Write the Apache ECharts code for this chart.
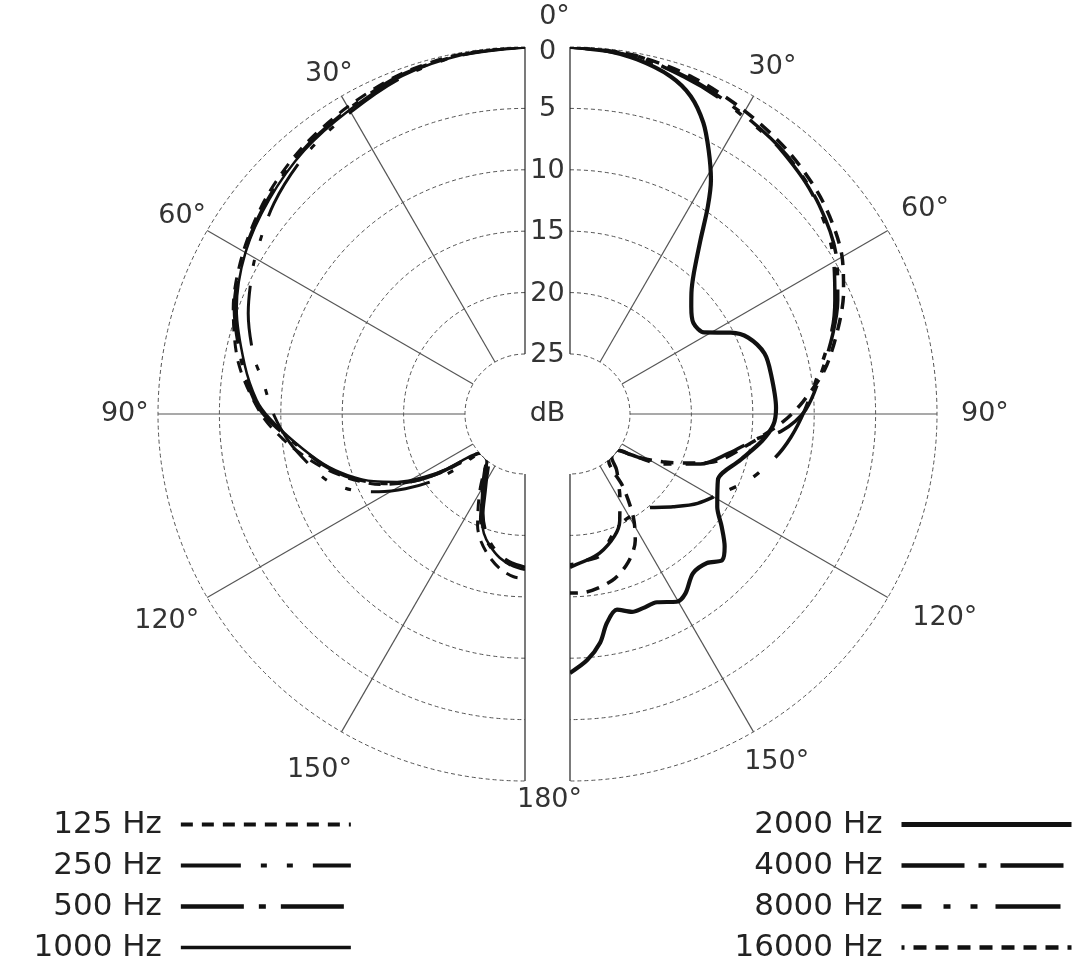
<!DOCTYPE html>
<html><head><meta charset="utf-8">
<script src="https://cdn.jsdelivr.net/npm/echarts@6/dist/echarts.min.js"></script>
<style>html,body{margin:0;padding:0;background:#fff}#c{width:1080px;height:966px}</style>
</head><body><div id="c"></div>
<script>
// ---- axis ticks ----
const angleTicks = [0, 30, 60, 90, 120, 150, 180];
const dbTicks = [0, 5, 10, 15, 20, 25];
const lowNames = ['125 Hz', '250 Hz', '500 Hz', '1000 Hz'];
const highNames = ['2000 Hz', '4000 Hz', '8000 Hz', '16000 Hz'];

// ---- data: [angle (deg), attenuation (dB)] ----
const f125 = [[0,0],[10,0.1],[20,0.4],[30,1.0],[40,1.6],[50,2.4],[60,3.4],[70,4.6],[80,6.2],[90,8.4],[97,10.4],[104,12.6],[110,14.6],[116,16.8],[121,19.2],[125,21.6],[128,23.8],[131,25],[141,25],[145,24],[149,22.8],[153,21.5],[157,20],[161,18.9],[166,17.9],[171,17.1],[176,16.6],[180,16.5]];
const f250 = [[0,0],[10,0.2],[20,0.7],[30,1.5],[40,2.2],[50,3.2],[60,4.5],[65,5.2],[70,5.9],[78,7.3],[83,8.4],[90,9.4],[97,10.6],[104,12.0],[109,13.0],[114,14.6],[118,16.4],[122,18.4],[126,20.6],[129,23],[132,25],[140,25],[144,24.3],[149,23.2],[153,22.2],[157,20.6],[161,19.5],[166,18.6],[171,17.9],[176,17.4],[180,17.2]];
const f500 = [[0,0],[10,0.2],[20,0.5],[30,1.2],[40,1.8],[50,2.6],[60,3.5],[70,4.7],[80,6.5],[87,7.8],[91,8.9],[97,10.9],[104,12.9],[109,14.4],[114,16.2],[118,17.8],[122,19.8],[125,21.8],[128,24.2],[131,25],[140,25],[144,24.8],[149,23.8],[153,22.7],[157,21.1],[161,19.9],[165,19.0],[170,18.2],[175,17.7],[180,17.4]];
const f1000 = [[0,0],[10,0.2],[20,0.6],[30,1.3],[40,1.9],[50,2.7],[60,3.6],[70,4.9],[80,6.7],[87,8.0],[91,9.1],[97,11.0],[104,13.0],[109,14.6],[114,16.4],[118,18.1],[122,20.2],[125,22.1],[128,24.4],[131,25],[140,25],[144,24.6],[149,23.6],[153,22.5],[157,20.8],[161,19.6],[165,18.8],[170,18.0],[175,17.5],[180,17.2]];
const f2000 = [[0,0],[5,0.1],[10.7,0.5],[16.6,1.2],[20.8,2.2],[24.6,3.8],[27.7,5.6],[31,7.6],[33.6,9.6],[36.9,12.2],[41.3,14.6],[45,15.9],[48.5,16.7],[53.6,17.4],[58.7,17.1],[63.2,15.2],[66.8,14.1],[72.7,13.3],[78.7,13.2],[88.3,13.1],[93,13.3],[98,14.1],[105,15.5],[114,16.7],[122.3,15.7],[126.6,14.5],[130.6,13.3],[133.8,12.7],[137.4,13.4],[142.3,13.5],[147.3,12.5],[150.4,12.3],[155.2,13.0],[159.4,13.0],[162.6,13.0],[166.5,13.5],[170,12.6],[172.5,11.1],[176,9.8],[180,8.8]];
const f4000 = [[0,0],[10,0.3],[20,0.9],[30,1.7],[40,2.4],[50,3.4],[60,4.8],[67,6.2],[73,7.5],[81,9.2],[89,10.7],[94.6,12.6],[97.3,14.4],[104,16.6],[111,18.5],[118.6,21.4],[123.7,23.9],[127,25],[136,25],[140,24],[145,23],[149,22],[155,20.3],[160,19.3],[168,18.3],[175,17.8],[180,17.6]];
const f8000 = [[0,0],[10,0.2],[18.6,0.9],[25,1.4],[32.6,2.0],[38,2.3],[47.5,3.2],[57.4,4.6],[66.7,6.4],[72.3,7.5],[80.8,9.4],[89.3,10.8],[96,11.8],[102,12.8],[110,14.3],[116.7,15.8],[125,17.2],[132,18.6],[140.7,20],[149.8,20.2],[157.4,19.9],[168,18.1],[173.4,17.9],[180,17.4]];
const f16000 = [[0,0],[10,0.2],[20,0.7],[30,1.4],[40,2.1],[50,3.0],[60,4.3],[66,5.5],[72,6.9],[80,8.8],[87,10.9],[92,12.5],[99.2,15],[108.6,17.6],[112.2,19.3],[117.3,21.4],[122.7,23.4],[127.5,25],[140,25],[144,22.5],[148.5,20],[152.7,18.3],[158.7,16.9],[165.8,15.9],[175.8,15.3],[180,15.3]];

const FONT = 'DejaVu Sans';
const INK = '#111';
const chart = echarts.init(document.getElementById('c'));

const styles = {
  '125 Hz':   { width: 3,   type: [12, 9] },
  '250 Hz':   { width: 3,   type: [60, 20, 6, 20, 6, 20] },
  '500 Hz':   { width: 3.5, type: [63, 15, 7, 15] },
  '1000 Hz':  { width: 2.5, type: 'solid' },
  '2000 Hz':  { width: 4.2, type: 'solid' },
  '4000 Hz':  { width: 3.5, type: [63, 14, 8, 14] },
  '8000 Hz':  { width: 3.5, type: [65, 22, 7, 20, 7, 18], dashOffset: 45 },
  '16000 Hz': { width: 3.5, type: [13, 9], dashOffset: 10 }
};

function mkSeries(name, arr, polarIndex) {
  const s = styles[name];
  return {
    type: 'line', name: name, coordinateSystem: 'polar', polarIndex: polarIndex,
    data: arr.map(p => [p[1], p[0]]),
    showSymbol: false, symbol: 'none', smooth: 0.3, silent: true, z: 5,
    lineStyle: { color: INK, width: s.width, type: s.type, dashOffset: s.dashOffset || 0, cap: 'butt' }
  };
}

function angleAx(idx, start, end, cw) {
  return {
    polarIndex: idx, type: 'value', min: 0, max: 180, interval: 30,
    startAngle: start, endAngle: end, clockwise: cw,
    axisLine: { show: false }, axisTick: { show: false }, axisLabel: { show: false },
    splitLine: { show: true, lineStyle: { color: ['#222', '#555', '#555', '#555', '#555', '#555', '#222'], width: 1.2 } }
  };
}
function radiusAx(idx) {
  return {
    polarIndex: idx, type: 'value', min: 0, max: 25, interval: 5, inverse: true,
    axisLine: { show: false }, axisTick: { show: false }, axisLabel: { show: false },
    splitLine: { show: true, lineStyle: { color: '#555', width: 1, type: [4, 3] } }
  };
}
function legendOf(names, right) {
  return {
    data: names.map(n => ({ name: n, lineStyle: { width: styles[n].width + 0.8 } })),
    orient: 'vertical', align: 'right', right: right, top: 804, height: 200,
    itemWidth: 170, itemHeight: 14, itemGap: 10, selectedMode: false,
    itemStyle: { opacity: 0 },
    textStyle: { fontFamily: FONT, fontSize: 31, color: '#222', lineHeight: 30, padding: [0, 14, 0, 0] }
  };
}

const option = {
  backgroundColor: '#fff',
  animation: false,
  polar: [
    { center: [525, 414], radius: [60, 367] },
    { center: [570, 414], radius: [60, 367] }
  ],
  angleAxis: [angleAx(0, 90, 270, false), angleAx(1, 90, -90, true)],
  radiusAxis: [radiusAx(0), radiusAx(1)],
  legend: [legendOf(lowNames, 722), legendOf(highNames, 1)],
  series: [
    mkSeries(lowNames[0], f125, 0),
    mkSeries(lowNames[1], f250, 0),
    mkSeries(lowNames[2], f500, 0),
    mkSeries(lowNames[3], f1000, 0),
    mkSeries(highNames[0], f2000, 1),
    mkSeries(highNames[1], f4000, 1),
    mkSeries(highNames[2], f8000, 1),
    mkSeries(highNames[3], f16000, 1)
  ]
};
chart.setOption(option);

// ---- text labels, placed through the polar scales ----
const txt = (x, y, s) => ({ type: 'text', x: x, y: y, silent: true,
  style: { text: s, fill: '#333', font: '27px "' + FONT + '"', align: 'center', verticalAlign: 'middle' } });
const g = [];
// dB ring labels in the gap between the halves
dbTicks.forEach(t => {
  const pL = chart.convertToPixel({ seriesIndex: 0 }, [t, 0]);
  const pR = chart.convertToPixel({ seriesIndex: 4 }, [t, 0]);
  g.push(txt((pL[0] + pR[0]) / 2, pL[1] + (t === 0 ? 5 : 1), String(t)));
});
// angle labels just outside the 0 dB ring (radius given as dB beyond 0)
const labelOffL = [0, -2.05, -2.35, -2.7, -3.8, -3.6, 0];
const labelOffR = [0, -3.1, -3.5, -3.9, -4.7, -2.8, 0];
angleTicks.forEach((a, i) => {
  if (a === 0 || a === 180) return;
  const pL = chart.convertToPixel({ seriesIndex: 0 }, [labelOffL[i], a]);
  const pR = chart.convertToPixel({ seriesIndex: 4 }, [labelOffR[i], a]);
  g.push(txt(pL[0], pL[1], a + '°'));
  g.push(txt(pR[0] + (a === 120 ? 7 : a === 150 ? 6 : 0), pR[1] + (a === 120 ? -8 : a === 30 ? 4 : 0), a + '°'));
});
const top0 = chart.convertToPixel({ seriesIndex: 0 }, [0, 0]);
const top1 = chart.convertToPixel({ seriesIndex: 4 }, [0, 0]);
const bot0 = chart.convertToPixel({ seriesIndex: 0 }, [0, 180]);
const midX = (top0[0] + top1[0]) / 2;
const cL = chart.convertToPixel({ seriesIndex: 0 }, [25, 90]);
g.push(txt(midX, cL[1], 'dB'));
g.push(txt(midX + 7, top0[1] - 30, angleTicks[0] + '°'));
g.push(txt(midX + 2, bot0[1] + 19, angleTicks[6] + '°'));
chart.setOption({ graphic: g });
</script></body></html>
